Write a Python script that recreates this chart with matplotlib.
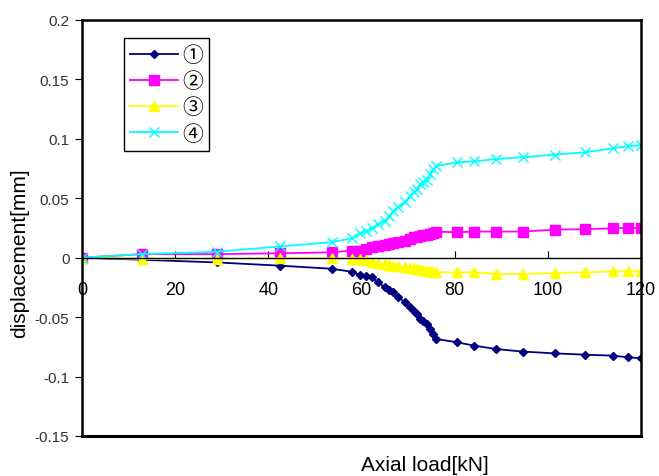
import matplotlib.pyplot as plt

# axial load [kN] shared by all four gauges
load = [0, 12.8, 29, 42.5, 53.6, 57.9, 59.7, 61.0, 62.2, 63.6, 65.0, 65.9, 66.8,
        67.9, 69.3, 70.4, 71.2, 71.9, 72.6, 73.3, 74.0, 74.7, 75.4, 76.1,
        80.5, 84.2, 88.8, 94.6, 101.5, 108.0, 113.9, 117.2, 120.0]

disp1 = [0, -0.0017, -0.004, -0.0067, -0.0093, -0.0118, -0.0146, -0.0155, -0.0165,
         -0.0207, -0.025, -0.027, -0.029, -0.0333, -0.0375, -0.0417, -0.0445,
         -0.0474, -0.0516, -0.0535, -0.0558, -0.06, -0.0642, -0.0684,
         -0.0712, -0.074, -0.0768, -0.079, -0.0805, -0.0816, -0.0824, -0.0838, -0.0846]
disp2 = [0, 0.003, 0.003, 0.0037, 0.0045, 0.006, 0.006, 0.0075, 0.0087, 0.0095,
         0.0105, 0.0115, 0.0124, 0.0133, 0.0143, 0.016, 0.017, 0.0175, 0.0185,
         0.019, 0.0195, 0.02, 0.021, 0.0219,
         0.0214, 0.022, 0.022, 0.022, 0.0236, 0.024, 0.0247, 0.0252, 0.025]
disp3 = [0, -0.001, -0.001, -0.0005, -0.0005, -0.001, -0.001, -0.002, -0.0034,
         -0.0045, -0.0053, -0.006, -0.0067, -0.0073, -0.008, -0.0088, -0.009,
         -0.0095, -0.0102, -0.0105, -0.011, -0.0115, -0.012, -0.0123,
         -0.0123, -0.0123, -0.0137, -0.0137, -0.0129, -0.0123, -0.0115, -0.0115, -0.0115]
disp4 = [0, 0.003, 0.005, 0.0095, 0.013, 0.0163, 0.0205, 0.0225, 0.0247, 0.028,
         0.031, 0.035, 0.039, 0.043, 0.0466, 0.052, 0.055, 0.0578, 0.062, 0.0635,
         0.065, 0.0704, 0.0746, 0.077,
         0.0803, 0.081, 0.083, 0.0845, 0.0867, 0.0887, 0.092, 0.0937, 0.0948]

labels = ["①", "②", "③", "④"]
xticks = [0, 20, 40, 60, 80, 100, 120]
yticks = [-0.15, -0.1, -0.05, 0, 0.05, 0.1, 0.15, 0.2]
ytick_labels = ["-0.15", "-0.1", "-0.05", "0", "0.05", "0.1", "0.15", "0.2"]

plt.rcParams["font.family"] = ["Liberation Sans", "DejaVu Sans"]

fig = plt.figure(figsize=(6.59, 4.77), dpi=100)
ax = fig.add_axes([0.1244, 0.0839, 0.8483, 0.8721])

ax.plot(load, disp1, color="#000080", marker="D", ms=4.5, lw=1.3, label=labels[0])
ax.plot(load, disp2, color="#FF00FF", marker="s", ms=6.5, lw=1.3, label=labels[1])
ax.plot(load, disp3, color="#FFFF00", marker="^", ms=6.5, lw=1.3, label=labels[2])
ax.plot(load, disp4, color="#00FFFF", marker="x", ms=7, mew=1, lw=1.3, label=labels[3])

ax.set_xlim(0, 120)
ax.set_ylim(-0.15, 0.2)

# frame plus zero axis carrying the x ticks
ax.spines["bottom"].set_position(("data", 0))
ax.spines["bottom"].set_linewidth(1.0)
for s in ["left", "top", "right"]:
    ax.spines[s].set_linewidth(1.8)
ax.axhline(-0.15, color="black", lw=2.2, clip_on=False)

ax.set_xticks(xticks)
ax.set_xticklabels([str(t) for t in xticks])
ax.tick_params(axis="x", direction="in", length=5, pad=17, labelsize=13)
ax.set_yticks(yticks)
ax.set_yticklabels(ytick_labels, color="#333333")
ax.tick_params(axis="y", direction="out", length=5, pad=4, labelsize=11)

fig.text(0.645, 0.025, "Axial load[kN]", ha="center", va="center", fontsize=15)
fig.text(0.03, 0.47, "displacement[mm]", ha="center", va="center",
         rotation=90, fontsize=15)

leg = ax.legend(loc="upper left", bbox_to_anchor=(0.075, 0.957), borderaxespad=0,
                fancybox=False, edgecolor="black", framealpha=1,
                prop={"family": ["Noto Sans CJK JP", "DejaVu Sans"], "size": 15},
                handlelength=2.3, labelspacing=0.2, handletextpad=0.2,
                borderpad=0.3)
leg.get_frame().set_linewidth(1.0)

fig.savefig("out.png", dpi=100)
